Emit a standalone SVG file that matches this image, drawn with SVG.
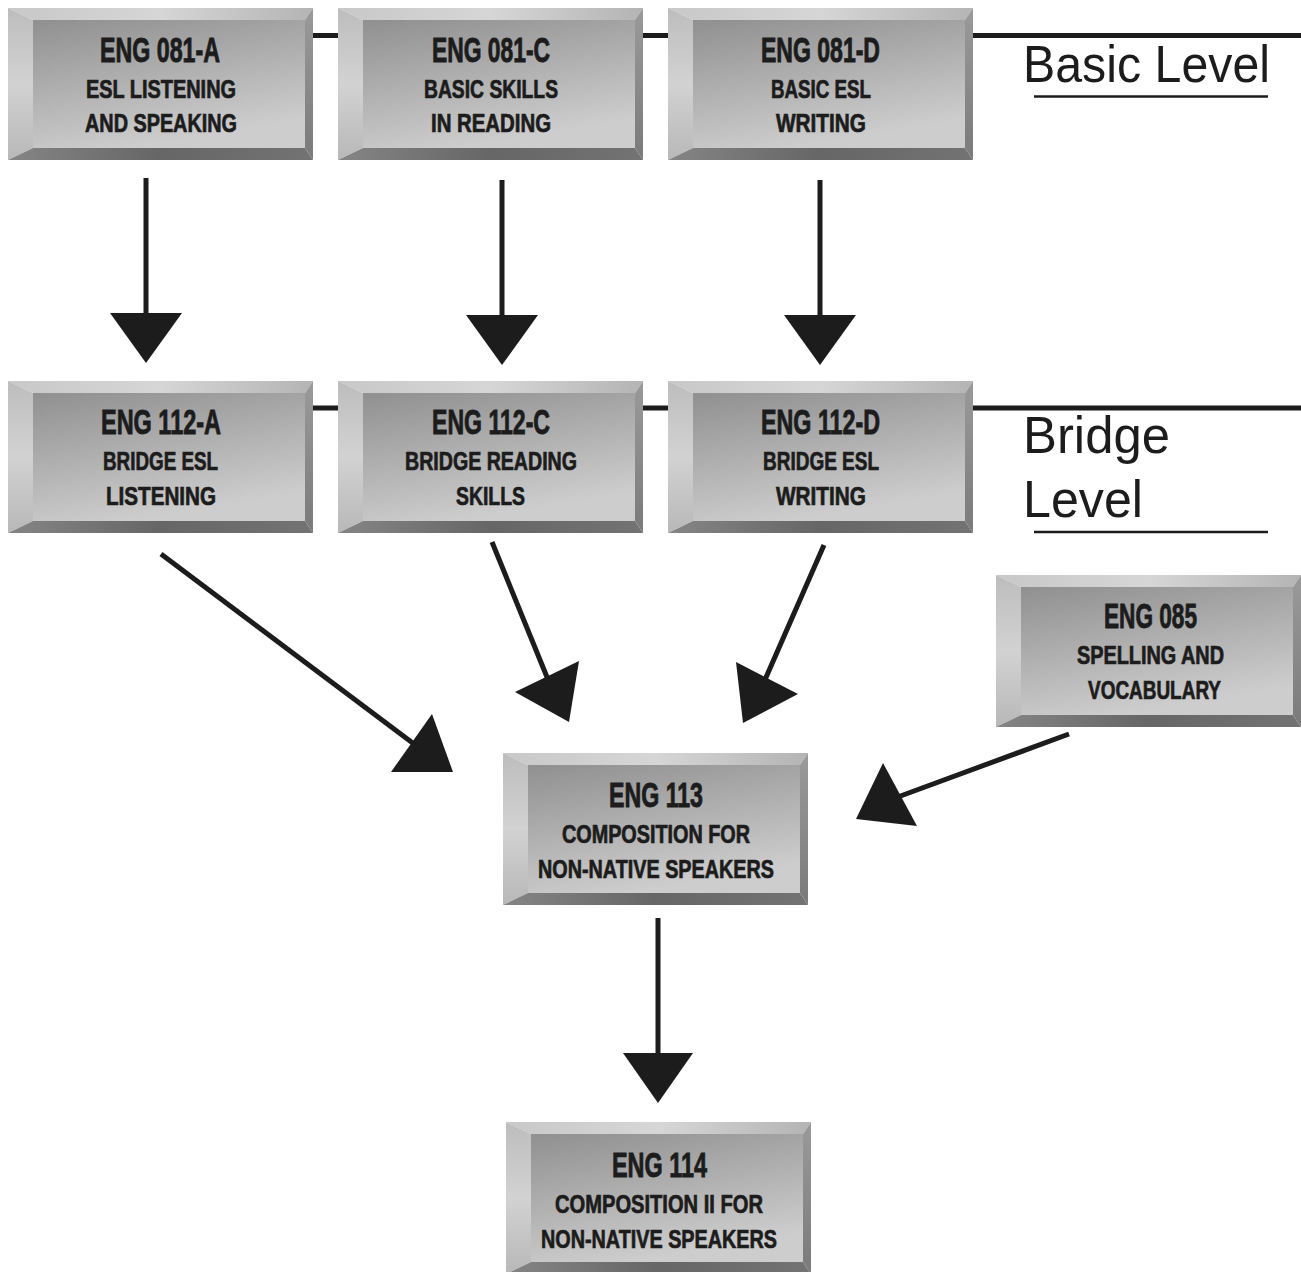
<svg xmlns="http://www.w3.org/2000/svg" xmlns:xlink="http://www.w3.org/1999/xlink" width="1301" height="1272" viewBox="0 0 1301 1272">
<style>
  .t1 { font-family: "Liberation Sans Narrow", "Liberation Sans", Arial, sans-serif; font-weight: bold; font-size: 35px; fill: #1c1c1c; stroke: #1c1c1c; stroke-width: 0.9; text-anchor: start; }
  .t2 { font-family: "Liberation Sans Narrow", "Liberation Sans", Arial, sans-serif; font-weight: bold; font-size: 25px; fill: #1c1c1c; stroke: #1c1c1c; stroke-width: 0.7; text-anchor: start; }
  .lvl { font-family: "Liberation Sans", Arial, sans-serif; font-size: 52px; fill: #1c1c1c; }
  .ln { stroke: #1c1c1c; stroke-width: 5; fill: none; }
  .ul { stroke: #1c1c1c; stroke-width: 2.5; fill: none; }
  .head { fill: #1c1c1c; }
</style>
<defs>
  <linearGradient id="gFace" x1="0" y1="0" x2="0.35" y2="1">
    <stop offset="0" stop-color="#909090"/>
    <stop offset="1" stop-color="#cdcdcd"/>
  </linearGradient>
  <linearGradient id="gTop" x1="0" y1="0" x2="1" y2="0">
    <stop offset="0" stop-color="#c8c8c8"/>
    <stop offset="0.5" stop-color="#d6d6d6"/>
    <stop offset="1" stop-color="#b4b4b4"/>
  </linearGradient>
  <linearGradient id="gLeft" x1="0" y1="0" x2="0" y2="1">
    <stop offset="0" stop-color="#bdbdbd"/>
    <stop offset="0.5" stop-color="#d2d2d2"/>
    <stop offset="1" stop-color="#b8b8b8"/>
  </linearGradient>
  <linearGradient id="gBot" x1="0" y1="0" x2="1" y2="0">
    <stop offset="0" stop-color="#858585"/>
    <stop offset="0.5" stop-color="#666666"/>
    <stop offset="1" stop-color="#737373"/>
  </linearGradient>
  <linearGradient id="gRight" x1="0" y1="0" x2="0" y2="1">
    <stop offset="0" stop-color="#9a9a9a"/>
    <stop offset="1" stop-color="#7a7a7a"/>
  </linearGradient>
  <g id="btn">
    <rect x="25" y="12" width="272" height="128" fill="url(#gFace)"/>
    <polygon points="0,0 305,0 297,12 25,12" fill="url(#gTop)"/>
    <polygon points="0,0 25,12 25,140 0,152" fill="url(#gLeft)"/>
    <polygon points="0,152 25,140 297,140 305,152" fill="url(#gBot)"/>
    <polygon points="305,0 305,152 297,140 297,12" fill="url(#gRight)"/>
  </g>
</defs>
<rect width="1301" height="1272" fill="#ffffff"/>

<g id="connectors">
  <line class="ln" x1="300" y1="35.5" x2="1301" y2="35.5"/>
  <line class="ln" x1="300" y1="408" x2="1301" y2="408"/>
  <line class="ul" x1="1034" y1="96.5" x2="1268" y2="96.5"/>
  <line class="ul" x1="1034" y1="532" x2="1268" y2="532"/>

  <line class="ln" x1="146" y1="178" x2="146" y2="318"/>
  <polygon class="head" points="110,313 182,313 146,363"/>
  <line class="ln" x1="502" y1="180" x2="502" y2="318"/>
  <polygon class="head" points="466,315 538,315 502,365"/>
  <line class="ln" x1="820" y1="180" x2="820" y2="318"/>
  <polygon class="head" points="784,315 856,315 820,365"/>

  <line class="ln" x1="161" y1="554" x2="418" y2="747"/>
  <polygon class="head" points="391,772 453,772 432,714"/>
  <line class="ln" x1="492" y1="542" x2="549" y2="682"/>
  <polygon class="head" points="515,692 579,661 569,722"/>
  <line class="ln" x1="824" y1="545" x2="764" y2="682"/>
  <polygon class="head" points="736,662 798,694 743,723"/>
  <line class="ln" x1="1069" y1="734" x2="895" y2="798"/>
  <polygon class="head" points="883,763 917,826 856,819"/>

  <line class="ln" x1="658" y1="918" x2="658" y2="1056"/>
  <polygon class="head" points="623,1053 693,1053 658,1103"/>
</g>

<g id="level-labels">
  <text class="lvl" x="1023" y="82" textLength="247" lengthAdjust="spacingAndGlyphs">Basic Level</text>
  <text class="lvl" x="1023" y="453" textLength="147" lengthAdjust="spacingAndGlyphs">Bridge</text>
  <text class="lvl" x="1023" y="517" textLength="120" lengthAdjust="spacingAndGlyphs">Level</text>
</g>

<g id="eng081a">
  <use xlink:href="#btn" x="8" y="8"/>
  <text class="t1" x="100" y="62" textLength="120" lengthAdjust="spacingAndGlyphs">ENG 081-A</text>
  <text class="t2" x="86" y="98" textLength="150" lengthAdjust="spacingAndGlyphs">ESL LISTENING</text>
  <text class="t2" x="85" y="132" textLength="152" lengthAdjust="spacingAndGlyphs">AND SPEAKING</text>
</g>
<g id="eng081c">
  <use xlink:href="#btn" x="338" y="8"/>
  <text class="t1" x="432" y="62" textLength="118" lengthAdjust="spacingAndGlyphs">ENG 081-C</text>
  <text class="t2" x="424" y="98" textLength="134" lengthAdjust="spacingAndGlyphs">BASIC SKILLS</text>
  <text class="t2" x="431" y="132" textLength="120" lengthAdjust="spacingAndGlyphs">IN READING</text>
</g>
<g id="eng081d">
  <use xlink:href="#btn" x="668" y="8"/>
  <text class="t1" x="761" y="62" textLength="119" lengthAdjust="spacingAndGlyphs">ENG 081-D</text>
  <text class="t2" x="771" y="98" textLength="100" lengthAdjust="spacingAndGlyphs">BASIC ESL</text>
  <text class="t2" x="776" y="132" textLength="90" lengthAdjust="spacingAndGlyphs">WRITING</text>
</g>

<g id="eng112a">
  <use xlink:href="#btn" x="8" y="381"/>
  <text class="t1" x="101" y="434" textLength="120" lengthAdjust="spacingAndGlyphs">ENG 112-A</text>
  <text class="t2" x="103" y="470" textLength="115" lengthAdjust="spacingAndGlyphs">BRIDGE ESL</text>
  <text class="t2" x="106" y="505" textLength="110" lengthAdjust="spacingAndGlyphs">LISTENING</text>
</g>
<g id="eng112c">
  <use xlink:href="#btn" x="338" y="381"/>
  <text class="t1" x="432" y="434" textLength="118" lengthAdjust="spacingAndGlyphs">ENG 112-C</text>
  <text class="t2" x="405" y="470" textLength="172" lengthAdjust="spacingAndGlyphs">BRIDGE READING</text>
  <text class="t2" x="456" y="505" textLength="69" lengthAdjust="spacingAndGlyphs">SKILLS</text>
</g>
<g id="eng112d">
  <use xlink:href="#btn" x="668" y="381"/>
  <text class="t1" x="761" y="434" textLength="119" lengthAdjust="spacingAndGlyphs">ENG 112-D</text>
  <text class="t2" x="763" y="470" textLength="116" lengthAdjust="spacingAndGlyphs">BRIDGE ESL</text>
  <text class="t2" x="776" y="505" textLength="90" lengthAdjust="spacingAndGlyphs">WRITING</text>
</g>

<g id="eng085">
  <use xlink:href="#btn" x="996" y="575"/>
  <text class="t1" x="1104" y="628" textLength="93" lengthAdjust="spacingAndGlyphs">ENG 085</text>
  <text class="t2" x="1077" y="664" textLength="147" lengthAdjust="spacingAndGlyphs">SPELLING AND</text>
  <text class="t2" x="1088" y="699" textLength="133" lengthAdjust="spacingAndGlyphs">VOCABULARY</text>
</g>

<g id="eng113">
  <use xlink:href="#btn" x="503" y="753"/>
  <text class="t1" x="609" y="807" textLength="94" lengthAdjust="spacingAndGlyphs">ENG 113</text>
  <text class="t2" x="562" y="843" textLength="188" lengthAdjust="spacingAndGlyphs">COMPOSITION FOR</text>
  <text class="t2" x="538" y="878" textLength="236" lengthAdjust="spacingAndGlyphs">NON-NATIVE SPEAKERS</text>
</g>

<g id="eng114">
  <use xlink:href="#btn" x="506" y="1122"/>
  <text class="t1" x="612" y="1177" textLength="95" lengthAdjust="spacingAndGlyphs">ENG 114</text>
  <text class="t2" x="555" y="1213" textLength="208" lengthAdjust="spacingAndGlyphs">COMPOSITION II FOR</text>
  <text class="t2" x="541" y="1248" textLength="236" lengthAdjust="spacingAndGlyphs">NON-NATIVE SPEAKERS</text>
</g>
</svg>
